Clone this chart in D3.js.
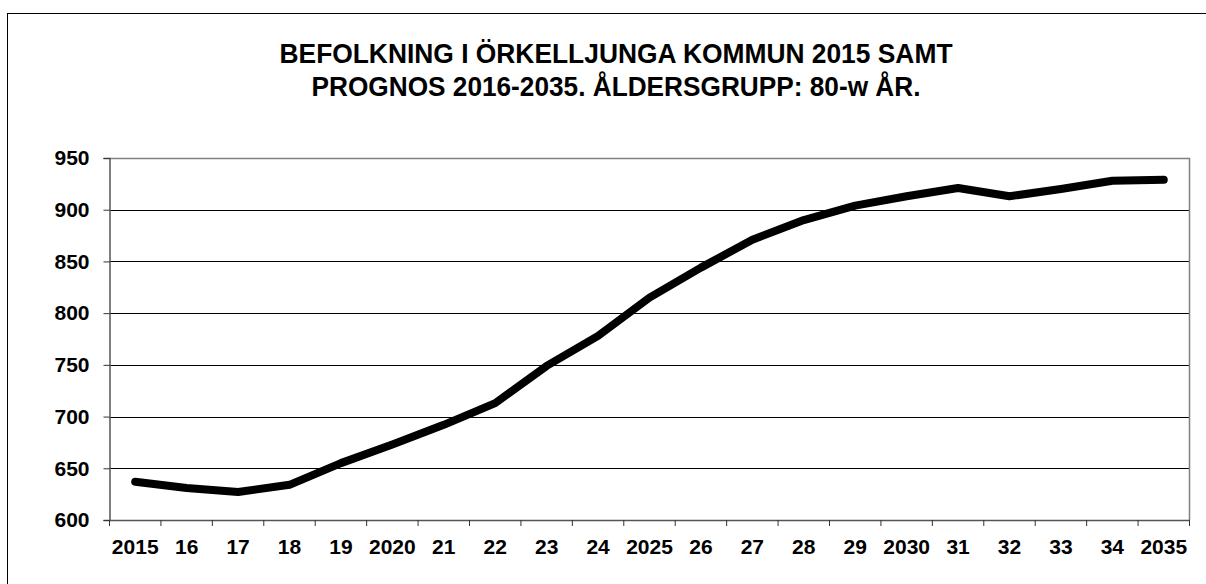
<!DOCTYPE html>
<html>
<head>
<meta charset="utf-8">
<script src="https://cdn.jsdelivr.net/npm/d3@7"></script>
<style>
  body { margin: 0; background: #fff; }
  svg { display: block; font-family: "Liberation Sans", Arial, sans-serif; }
</style>
</head>
<body>
<svg id="chart"></svg>
<script>
var years = ["2015","16","17","18","19","2020","21","22","23","24","2025",
             "26","27","28","29","2030","31","32","33","34","2035"];
var values = [637, 631, 627, 634, 655, 673, 692, 713, 749, 778, 815,
              844, 871, 890, 904, 913, 921, 913, 920, 928, 929];
var yTicks = [600, 650, 700, 750, 800, 850, 900, 950];
var titleLines = ["BEFOLKNING I ÖRKELLJUNGA KOMMUN 2015 SAMT",
                  "PROGNOS 2016-2035. ÅLDERSGRUPP: 80-w ÅR."];

function drawChart() {
  var width = 1206, height = 584;
  var pLeft = 109.5, pRight = 1189.5, pTop = 158, pBottom = 520;

  var svg = d3.select('#chart').attr('width', width).attr('height', height);

  // outer frame (runs off right and bottom edges)
  svg.append('rect')
    .attr('x', 7.5).attr('y', 13.5)
    .attr('width', 1210).attr('height', 600)
    .attr('fill', 'none').attr('stroke', '#000').attr('stroke-width', 1);

  // title
  svg.append('g').selectAll('text')
    .data(titleLines)
    .enter()
    .append('text')
    .attr('x', 616)
    .attr('y', (d, i) => 63 + i * 33)
    .attr('text-anchor', 'middle')
    .attr('font-size', 27)
    .attr('font-weight', 'bold')
    .attr('textLength', (d, i) => i == 0 ? 673 : 609)
    .attr('lengthAdjust', 'spacingAndGlyphs')
    .text(d => d);

  var x = d3.scaleBand().domain(years).range([pLeft, pRight]);
  var y = d3.scaleLinear().domain([600, 950]).range([pBottom, pTop]);

  // gridlines
  svg.append('g')
    .selectAll('line')
    .data(yTicks.filter(d => d > 600 && d < 950))
    .enter()
    .append('line')
    .attr('x1', pLeft).attr('x2', pRight)
    .attr('y1', d => Math.round(y(d)) + 0.5)
    .attr('y2', d => Math.round(y(d)) + 0.5)
    .attr('stroke', '#000').attr('stroke-width', 1);

  // plot border top/right
  svg.append('path')
    .attr('d', 'M' + pLeft + ',' + (pTop + 0.5) + 'H' + pRight + 'V' + pBottom)
    .attr('fill', 'none').attr('stroke', '#808080').attr('stroke-width', 1.5);

  // y axis
  var yAxis = svg.append('g')
    .attr('transform', 'translate(' + pLeft + ',0)')
    .call(d3.axisLeft(y).tickValues(yTicks).tickSize(6).tickPadding(14));
  yAxis.select('.domain').attr('stroke', '#555').attr('stroke-width', 1.5);
  yAxis.selectAll('.tick line').attr('stroke', '#333');
  yAxis.selectAll('text')
    .attr('font-size', 21).attr('font-weight', 'bold')
    .attr('font-family', '"Liberation Sans", Arial, sans-serif')
    .attr('fill', '#000');

  // x axis, ticks between categories
  var xAxis = svg.append('g')
    .attr('transform', 'translate(0,' + pBottom + ')')
    .call(d3.axisBottom(x).tickSize(0).tickPadding(19));
  xAxis.select('.domain').attr('stroke', '#555').attr('stroke-width', 1.5);
  xAxis.selectAll('text')
    .attr('font-size', 21).attr('font-weight', 'bold')
    .attr('font-family', '"Liberation Sans", Arial, sans-serif')
    .attr('fill', '#000');
  xAxis.append('g')
    .selectAll('line')
    .data(years.concat(['end']))
    .enter()
    .append('line')
    .attr('x1', (d, i) => pLeft + i * x.step())
    .attr('x2', (d, i) => pLeft + i * x.step())
    .attr('y1', 0).attr('y2', 6)
    .attr('stroke', '#333');

  // the series
  var line = d3.line()
    .x((d, i) => x(years[i]) + x.bandwidth() / 2)
    .y(d => y(d));

  svg.append('path')
    .datum(values)
    .attr('d', line)
    .attr('fill', 'none')
    .attr('stroke', '#000')
    .attr('stroke-width', 8)
    .attr('stroke-linecap', 'round')
    .attr('stroke-linejoin', 'round');
}

drawChart();
</script>
</body>
</html>
